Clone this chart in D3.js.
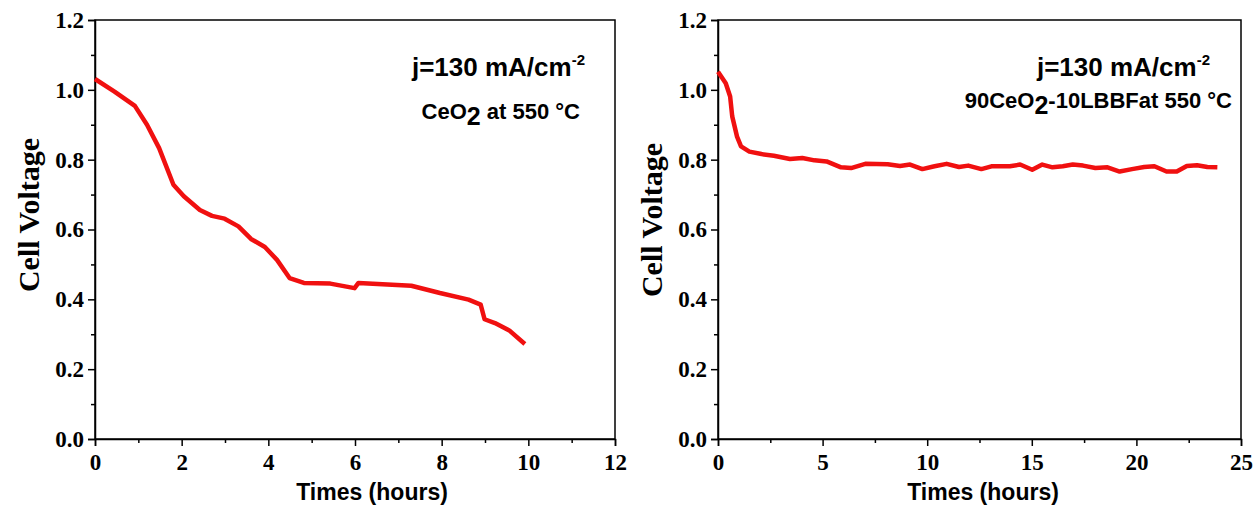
<!DOCTYPE html>
<html>
<head>
<meta charset="utf-8">
<script src="https://cdn.jsdelivr.net/npm/d3@7"></script>
<style>
  body { margin: 0; background: #fff; }
  svg { display: block; }
  .tick-label { font-family: "Liberation Serif", "Times New Roman", serif; font-weight: bold; }
  .ann { font-family: "Liberation Sans", Arial, sans-serif; font-weight: bold; }
</style>
</head>
<body>
<div id="chart"></div>
<script>
// CeO2 cell, 550 C
const ceoHours = [0, 0.45, 0.92, 1.2, 1.48, 1.81, 2.05, 2.42, 2.7, 2.99, 3.31, 3.6, 3.92, 4.2, 4.49, 4.82, 5.43, 5.99, 6.08, 7.3, 7.96, 8.62, 8.9, 8.99, 9.23, 9.56, 9.92];
const ceoVolts = [1.031, 0.995, 0.954, 0.9, 0.833, 0.728, 0.695, 0.656, 0.639, 0.631, 0.609, 0.573, 0.55, 0.513, 0.461, 0.447, 0.445, 0.432, 0.447, 0.439, 0.418, 0.399, 0.385, 0.343, 0.332, 0.311, 0.272];

// 90CeO2-10LBBF cell, 550 C
const lbbfHours = [0, 0.37, 0.58, 0.68, 0.91, 1.1, 1.5, 2.08, 2.67, 3.44, 4.03, 4.61, 5.19, 5.88, 6.36, 7.04, 8.11, 8.7, 9.18, 9.77, 10.35, 10.93, 11.52, 11.96, 12.59, 13.07, 13.95, 14.44, 15.02, 15.5, 15.99, 16.48, 16.96, 17.45, 18.04, 18.62, 19.2, 19.79, 20.37, 20.86, 21.44, 21.93, 22.41, 22.9, 23.39, 23.87];
const lbbfVolts = [1.052, 1.019, 0.981, 0.924, 0.866, 0.838, 0.823, 0.816, 0.811, 0.802, 0.805, 0.798, 0.795, 0.778, 0.776, 0.788, 0.787, 0.782, 0.786, 0.773, 0.781, 0.788, 0.779, 0.783, 0.773, 0.781, 0.781, 0.786, 0.771, 0.786, 0.778, 0.781, 0.786, 0.783, 0.776, 0.778, 0.766, 0.773, 0.779, 0.781, 0.766, 0.766, 0.782, 0.784, 0.779, 0.778];

const yTicks = [0, 0.2, 0.4, 0.6, 0.8, 1.0, 1.2];
const yMinor = [0.1, 0.3, 0.5, 0.7, 0.9, 1.1];
const leftXTicks = [0, 2, 4, 6, 8, 10, 12];
const leftXMinor = [1, 3, 5, 7, 9, 11];
const rightXTicks = [0, 5, 10, 15, 20, 25];
const rightXMinor = [2.5, 7.5, 12.5, 17.5, 22.5];

const width = 1257, height = 508;
const svg = d3.select("#chart").append("svg")
  .attr("width", width).attr("height", height);

function drawPanel(p) {
  const x = d3.scaleLinear().domain(p.xDomain).range([p.left, p.right]);
  const y = d3.scaleLinear().domain([0, 1.2]).range([p.bottom, p.top]);
  const g = svg.append("g");

  // box
  g.append("rect")
    .attr("x", p.left).attr("y", p.top)
    .attr("width", p.right - p.left).attr("height", p.bottom - p.top)
    .attr("fill", "none").attr("stroke", "#000").attr("stroke-width", 1.5);

  // y axis
  const yAxis = g.append("g").attr("transform", `translate(${p.left},0)`)
    .call(d3.axisLeft(y).tickValues(yTicks).tickFormat(d3.format(".1f")).tickSize(7).tickPadding(4));
  g.append("g").attr("transform", `translate(${p.left},0)`)
    .call(d3.axisLeft(y).tickValues(yMinor).tickFormat("").tickSize(4))
    .call(a => a.select(".domain").remove());

  // x axis
  const xAxis = g.append("g").attr("transform", `translate(0,${p.bottom})`)
    .call(d3.axisBottom(x).tickValues(p.xTicks).tickFormat(d3.format("d")).tickSize(7).tickPadding(8));
  g.append("g").attr("transform", `translate(0,${p.bottom})`)
    .call(d3.axisBottom(x).tickValues(p.xMinor).tickFormat("").tickSize(4))
    .call(a => a.select(".domain").remove());

  g.selectAll(".domain").attr("stroke-width", 1.5);
  g.selectAll(".tick line").attr("stroke-width", 1.5);
  [yAxis, xAxis].forEach(a => a.selectAll("text")
    .attr("class", "tick-label").attr("font-size", 23).attr("fill", "#000"));

  // axis titles
  g.append("text")
    .attr("transform", `translate(${p.left - 56},${p.yTitleY}) rotate(-90)`)
    .attr("text-anchor", "middle")
    .attr("class", "tick-label")
    .attr("font-size", 30)
    .text("Cell Voltage");
  g.append("text")
    .attr("x", p.xTitleX).attr("y", p.bottom + 61)
    .attr("text-anchor", "middle")
    .attr("class", "ann").attr("font-size", 23)
    .text("Times (hours)");

  // data line
  const pts = d3.zip(p.hours, p.volts);
  g.append("path")
    .datum(pts)
    .attr("fill", "none")
    .attr("stroke", "#f01010")
    .attr("stroke-width", 4.5)
    .attr("stroke-linejoin", "round")
    .attr("d", d3.line().x(d => x(d[0])).y(d => y(d[1])));

  // annotations
  const t1 = g.append("text").attr("class", "ann")
    .attr("x", p.annX).attr("y", 76).attr("text-anchor", "end").attr("font-size", 26);
  t1.append("tspan").text("j=130 mA/cm");
  t1.append("tspan").attr("dy", -11).attr("font-size", 15).text("-2");

  const t2 = g.append("text").attr("class", "ann")
    .attr("x", p.ann2X).attr("y", p.ann2Y).attr("text-anchor", "end").attr("font-size", p.ann2Size);
  t2.append("tspan").text(p.ann2Pre);
  t2.append("tspan").attr("dy", 6).attr("font-size", p.ann2Size + 3).text("2");
  t2.append("tspan").attr("dy", -6).text(p.ann2Post);
}

drawPanel({
  left: 95, right: 615, top: 20, bottom: 439,
  xDomain: [0, 12], xTicks: leftXTicks, xMinor: leftXMinor,
  hours: ceoHours, volts: ceoVolts,
  yTitleY: 215, xTitleX: 372,
  annX: 585, ann2X: 580, ann2Y: 119, ann2Size: 22,
  ann2Pre: "CeO", ann2Post: " at 550 \u00B0C"
});

drawPanel({
  left: 718, right: 1241, top: 20, bottom: 439,
  xDomain: [0, 25], xTicks: rightXTicks, xMinor: rightXMinor,
  hours: lbbfHours, volts: lbbfVolts,
  yTitleY: 220, xTitleX: 983,
  annX: 1210, ann2X: 1232, ann2Y: 108, ann2Size: 22,
  ann2Pre: "90CeO", ann2Post: "-10LBBFat 550 \u00B0C"
});
</script>
</body>
</html>
